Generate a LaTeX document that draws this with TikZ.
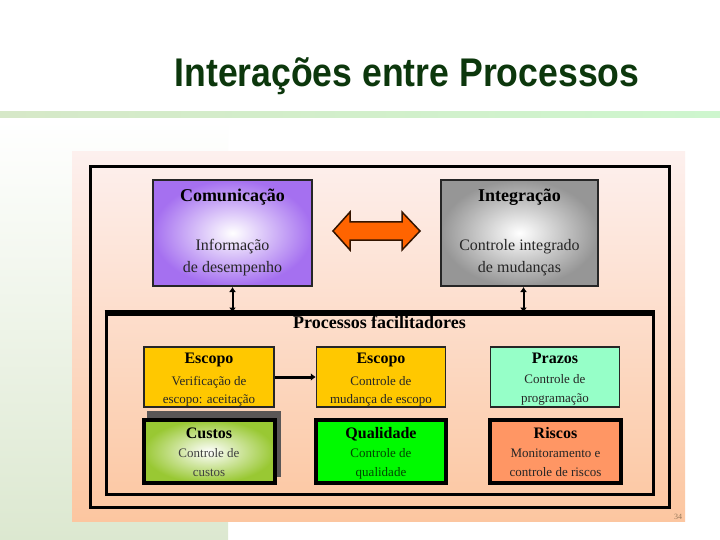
\documentclass[tikz,border=0pt]{standalone}
\usepackage{fontspec}
\setmainfont{Liberation Serif}
\newfontfamily\titlefont{Liberation Sans}
\usetikzlibrary{arrows.meta,calc}
\definecolor{titlegreen}{RGB}{12,55,12}
\definecolor{bggreen}{RGB}{220,232,208}
\definecolor{barL}{RGB}{214,232,200}
\definecolor{barR}{RGB}{206,246,206}
\definecolor{picTop}{RGB}{253,240,238}
\definecolor{picBot}{RGB}{252,198,160}
\definecolor{comPurple}{RGB}{165,112,240}
\definecolor{intGray}{RGB}{150,150,150}
\definecolor{goldbox}{RGB}{255,200,0}
\definecolor{mintbox}{RGB}{150,255,200}
\definecolor{custGreen}{RGB}{153,200,51}
\definecolor{qualGreen}{RGB}{0,250,0}
\definecolor{riskOrange}{RGB}{255,150,100}
\definecolor{arrowOrange}{RGB}{255,100,0}
\definecolor{shadowGray}{RGB}{90,86,86}
\definecolor{pagenum}{RGB}{150,120,90}
\tikzset{
  bigbox/.style={draw=black!85, line width=2pt, inner sep=0pt, minimum height=106pt},
  smallbox/.style={draw=black!85, line width=1.5pt, inner sep=0pt, minimum width=129pt, minimum height=60pt},
  thickbox/.style={draw=black, line width=4pt, inner sep=0pt, minimum width=130pt, minimum height=63pt},
  frame/.style={draw=black, line width=3pt, inner sep=0pt},
  ttl/.style={anchor=base, inner sep=0pt, font=\bfseries\fontsize{18}{18}\selectfont},
  sub/.style={anchor=base, inner sep=0pt, font=\fontsize{16}{16}\selectfont, text=black!85},
  sttl/.style={anchor=base, inner sep=0pt, font=\bfseries\fontsize{16}{16}\selectfont},
  ssub/.style={anchor=base, inner sep=0pt, font=\fontsize{13}{13}\selectfont, text=black!85},
  conn/.style={line width=2pt, {Latex[length=5pt,width=7pt]}-{Latex[length=5pt,width=7pt]}},
}
\begin{document}
\begin{tikzpicture}[x=1pt,y=1pt]
\useasboundingbox (0,0) rectangle (720,-540);
\fill[white] (0,0) rectangle (720,-540);
% left green panel and top bar
\shade[top color=white, bottom color=bggreen] (0,-120) rectangle (228,-540);
\shade[left color=barL, right color=barR] (0,-112) rectangle (720,-118);
% title
\node[anchor=base, inner sep=0pt, font=\titlefont\bfseries\fontsize{40}{40}\selectfont, text=titlegreen, xscale=0.89] (title) at (407,-87) {Interações entre Processos};
% picture background
\shade[top color=picTop, bottom color=picBot] (72,-152) rectangle (685,-521);
\node[font=\fontsize{8}{8}\selectfont, text=pagenum, inner sep=0pt] (pg) at (678,-517) {34};
% frames
\node[frame, minimum width=579pt, minimum height=340pt] (outer) at (379.5,-337) {};
\node[frame, minimum width=547pt, minimum height=180pt] (fac) at (379.5,-404) {};
\draw[line width=4.5pt] (fac.north west) -- (fac.north east);
\node[ttl] (factxt) at ([yshift=-16pt]fac.north) {Processos facilitadores};
% top boxes
\node[bigbox, minimum width=159pt, inner color=white, outer color=comPurple] (com) at (232.5,-233) {};
\node[ttl] (comt) at ([yshift=-23pt]com.north) {Comunicação};
\node[sub] (coms1) at ([yshift=-71pt]com.north) {Informação};
\node[sub] (coms2) at ([yshift=-93pt]com.north) {de desempenho};
\node[bigbox, minimum width=157pt, inner color=white, outer color=intGray] (int) at (519.5,-233) {};
\node[ttl] (intt) at ([yshift=-23pt]int.north) {Integração};
\node[sub] (ints1) at ([yshift=-71pt]int.north) {Controle integrado};
\node[sub] (ints2) at ([yshift=-93pt]int.north) {de mudanças};
% double arrow
\filldraw[fill=arrowOrange, draw=black!80!arrowOrange, line width=1.5pt, line join=miter]
  (333,-231) -- (350,-212) -- (350,-222) -- (402,-222) -- (402,-212) -- (420,-231)
  -- (402,-250) -- (402,-240) -- (350,-240) -- (350,-250) -- cycle;
% connectors to frame
\draw[conn] (com.south) -- (com.south |- fac.north);
\draw[conn] ([xshift=4pt]int.south) -- ([xshift=4pt]int.south |- fac.north);
% row 1
\node[smallbox, fill=goldbox, minimum width=130pt] (e1) at (209,-377) {};
\node[sttl] (e1t) at ([yshift=-17.5pt]e1.north) {Escopo};
\node[ssub] (e1s1) at ([yshift=-39.5pt]e1.north) {Verificação de};
\node[ssub] (e1s2) at ([yshift=-57.5pt]e1.north) {escopo: aceitação};
\node[smallbox, fill=goldbox] (e2) at (381,-377) {};
\node[sttl] (e2t) at ([yshift=-17.5pt]e2.north) {Escopo};
\node[ssub] (e2s1) at ([yshift=-39.5pt]e2.north) {Controle de};
\node[ssub] (e2s2) at ([yshift=-57.5pt]e2.north) {mudança de escopo};
\node[smallbox, fill=mintbox] (pr) at (555,-377) {};
\node[sttl] (prt) at ([yshift=-17.5pt]pr.north) {Prazos};
\node[ssub] (prs1) at ([yshift=-37.5pt]pr.north) {Controle de};
\node[ssub] (prs2) at ([yshift=-56.5pt]pr.north) {programação};
\draw[line width=3pt, -{Latex[length=5pt,width=8pt]}] (e1.east) -- (e2.west);
% row 2
\fill[shadowGray] (147,-411) rectangle (281,-477);
\node[thickbox, minimum width=131pt, inner color=white, outer color=custGreen] (cu) at (209,-451.5) {};
\node[sttl] (cut) at ([yshift=-20pt]cu.north) {Custos};
\node[ssub, text=black!75] (cus1) at ([yshift=-39pt]cu.north) {Controle de};
\node[ssub, text=black!75] (cus2) at ([yshift=-58.5pt]cu.north) {custos};
\node[thickbox, fill=qualGreen] (qu) at (381,-451.5) {};
\node[sttl] (qut) at ([yshift=-20pt]qu.north) {Qualidade};
\node[ssub, text=black!55!green!60!black] (qus1) at ([yshift=-39pt]qu.north) {Controle de};
\node[ssub, text=black!55!green!60!black] (qus2) at ([yshift=-58.5pt]qu.north) {qualidade};
\node[thickbox, minimum width=131pt, fill=riskOrange] (ri) at (555.5,-451.5) {};
\node[sttl] (rit) at ([yshift=-20pt]ri.north) {Riscos};
\node[ssub] (ris1) at ([yshift=-39pt]ri.north) {Monitoramento e};
\node[ssub] (ris2) at ([yshift=-58.5pt]ri.north) {controle de riscos};
\end{tikzpicture}
\end{document}
